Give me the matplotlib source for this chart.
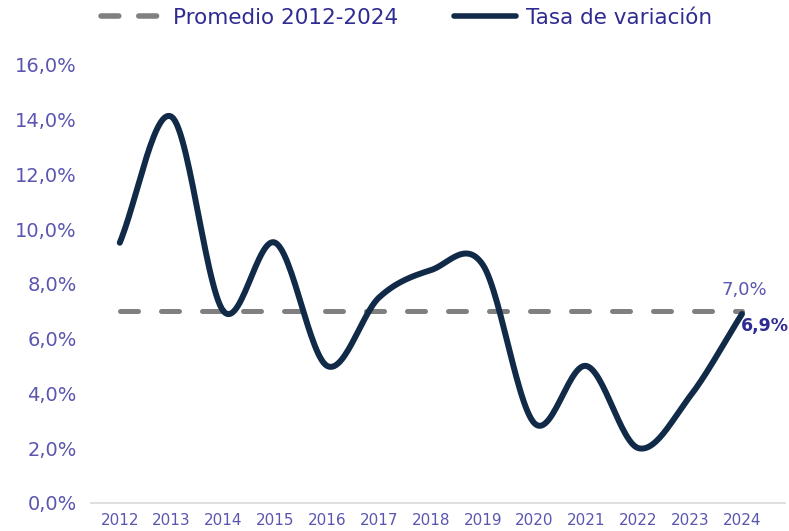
import numpy as np
import matplotlib
matplotlib.use('Agg')
import matplotlib.pyplot as plt
from matplotlib.lines import Line2D

years = [2012, 2013, 2014, 2015, 2016, 2017, 2018, 2019, 2020, 2021, 2022, 2023, 2024]
tasa = [9.5, 14.1, 7.0, 9.5, 5.0, 7.5, 8.5, 8.7, 2.9, 5.0, 2.0, 3.9, 6.9]
promedio = 7.0
yticks = [0, 2, 4, 6, 8, 10, 12, 14, 16]

navy = '#112a48'
grey = '#808080'
txt = '#2f2b92'
tick_col = '#5a56b0'

plt.rcParams['font.family'] = ['DejaVu Sans']


def smooth(x, y, n=30):
 # catmull-rom, like excel smoothed lines
 x = np.asarray(x, float)
 y = np.asarray(y, float)
 px = np.concatenate([[2*x[0]-x[1]], x, [2*x[-1]-x[-2]]])
 py = np.concatenate([[2*y[0]-y[1]], y, [2*y[-1]-y[-2]]])
 ox, oy = [], []
 t = np.linspace(0, 1, n)
 for i in range(1, len(px)-2):
  for arr, out in ((px, ox), (py, oy)):
   p0, p1, p2, p3 = arr[i-1], arr[i], arr[i+1], arr[i+2]
   out.extend(0.5*((2*p1) + (-p0+p2)*t + (2*p0-5*p1+4*p2-p3)*t**2 + (-p0+3*p1-3*p2+p3)*t**3))
 return ox, oy


fig = plt.figure(figsize=(7.89, 5.31), dpi=100)
ax = fig.add_axes([0.115, 0.053, 0.88, 0.825])

ax.plot([years[0], years[-1]], [promedio, promedio], color=grey, lw=3.6, dashes=(3.6, 4.6), dash_capstyle='round')
sx, sy = smooth(years, tasa)
ax.plot(sx, sy, color=navy, lw=4.3, solid_capstyle='round')

ax.text(years[-1] + 0.05, promedio + 0.45, '7,0%', color=tick_col, fontsize=13, ha='center', va='bottom')
ax.text(years[-1] + 0.45, tasa[-1] - 0.1, '6,9%', color=txt, fontsize=12.5, fontweight='bold', ha='center', va='top')

ax.set_xlim(2011.44, 2024.83)
ax.set_ylim(0, 16)
ax.set_xticks(years)
ax.set_xticklabels([str(y) for y in years], color=tick_col, fontsize=11)
ax.set_yticks(yticks)
ax.set_yticklabels(['%d,0%%' % v for v in yticks], color=tick_col, fontsize=14)
ax.tick_params(axis='y', length=0, pad=10)
ax.tick_params(axis='x', length=0, pad=7)
for s in ['top', 'right', 'left']:
 ax.spines[s].set_visible(False)
ax.spines['bottom'].set_color('#d9d9d9')
ax.spines['bottom'].set_linewidth(1.2)

handles = [Line2D([], [], color=grey, lw=4, dashes=(3.2, 3.6), dash_capstyle='round'),
           Line2D([], [], color=navy, lw=4, solid_capstyle='round')]
leg = fig.legend(handles, ['Promedio 2012-2024', 'Tasa de variación'], loc='upper center',
                 bbox_to_anchor=(0.515, 1.022), ncol=2, frameon=False, fontsize=15.5,
                 handlelength=2.9, columnspacing=2.6, handletextpad=0.45)
for t in leg.get_texts():
 t.set_color(txt)

fig.savefig('out.png', dpi=100)
